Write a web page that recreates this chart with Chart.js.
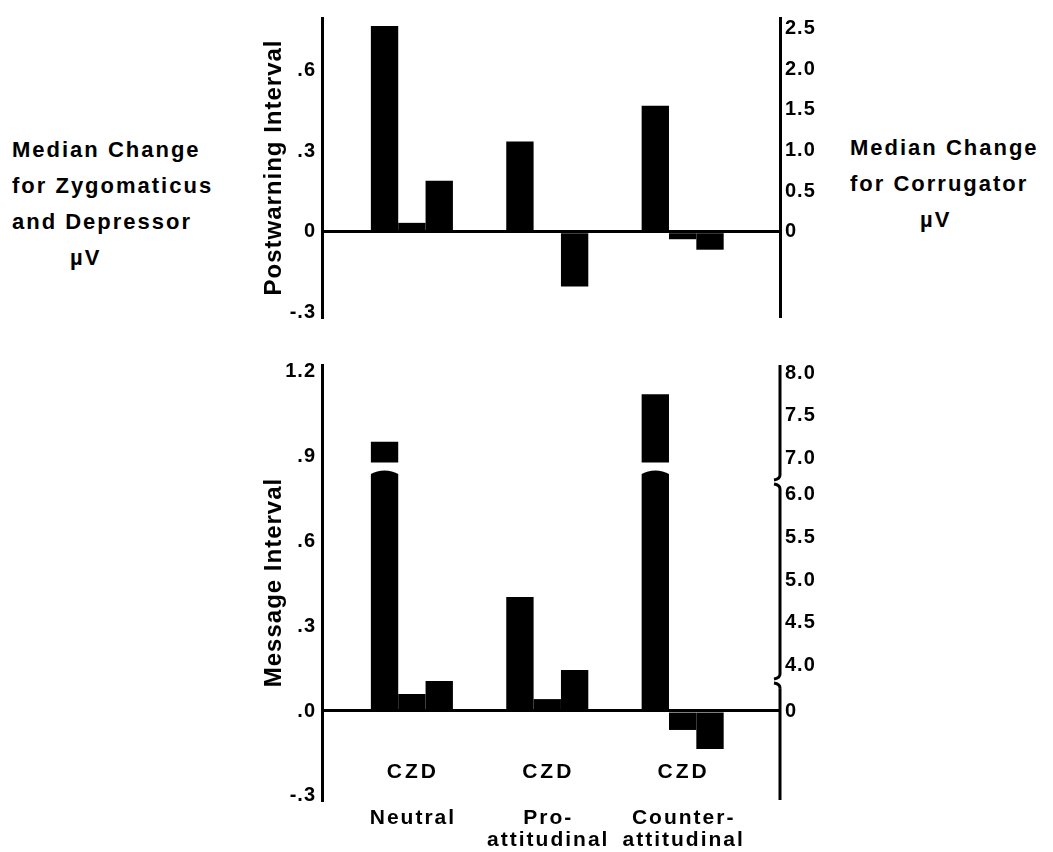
<!DOCTYPE html>
<html>
<head>
<meta charset="utf-8">
<title>Median change, postwarning and message interval</title>
<script src="https://cdn.jsdelivr.net/npm/chart.js@4/dist/chart.umd.min.js"></script>
<style>
  html, body { margin: 0; padding: 0; background: #fff; }
  body { width: 1053px; height: 852px; position: relative; overflow: hidden; font-family: "Liberation Sans", Arial, sans-serif; }
  canvas { position: absolute; left: 0; }
  #post { top: 0; }
  #msg { top: 340px; }
  .side { position: absolute; font-weight: bold; font-size: 22px; letter-spacing: 2px; line-height: 36px; color: #000; white-space: nowrap; }
</style>
</head>
<body>
<div class="side" style="left:12px; top:132px;">Median Change<br>for Zygomaticus<br>and Depressor<br><span style="padding-left:58px">µV</span></div>
<div class="side" style="left:850px; top:130px;">Median Change<br>for Corrugator<br><span style="padding-left:70px">µV</span></div>
<canvas id="post" width="1053" height="340"></canvas>
<canvas id="msg" width="1053" height="512"></canvas>
<script>
// categories
const groups = ['Neutral', 'Pro-attitudinal', 'Counter-attitudinal'];
const groupLines = [['Neutral'], ['Pro-', 'attitudinal'], ['Counter-', 'attitudinal']];
const barLetters = 'CZD';

// postwarning interval (top): C on right axis, Z and D on left axis
const postCorrugator = [2.53, 1.11, 1.55];
const postZygomaticus = [0.033, 0, -0.028];
const postDepressor = [0.19, -0.204, -0.067];

// message interval (bottom)
const msgCorrugator = [7.19, 4.8, 7.75];
const msgZygomaticus = [0.06, 0.042, -0.067];
const msgDepressor = [0.106, 0.145, -0.134];

// tick labels
const postLeftTicks = [-0.3, 0, 0.3, 0.6];
const postLeftLabels = ['-.3', '0', '.3', '.6'];
const postRightTicks = [0, 0.5, 1, 1.5, 2, 2.5];
const postRightLabels = ['0', '0.5', '1.0', '1.5', '2.0', '2.5'];
const msgLeftTicks = [-0.3, 0, 0.3, 0.6, 0.9, 1.2];
const msgLeftLabels = ['-.3', '.0', '.3', '.6', '.9', '1.2'];
const msgRightTicks = [0, 4, 4.5, 5, 5.5, 6, 7, 7.5, 8];
const msgRightLabels = ['0', '4.0', '4.5', '5.0', '5.5', '6.0', '7.0', '7.5', '8.0'];

// broken corrugator axis of the message panel: real value -> axis position
const msgBreakMap = [[0, 0], [4, 0.541], [6, 2.541], [7, 2.976], [9, 4.976]];
const axisBreaks = [2.6, 6.35];   // where the axis line is cut
const barCut = 6.77;              // where the tall bars are cut

function toAxis(v) {
  for (let i = 1; i < msgBreakMap.length; i++) {
    const [v0, u0] = msgBreakMap[i - 1];
    const [v1, u1] = msgBreakMap[i];
    if (v <= v1 || i === msgBreakMap.length - 1) return u0 + (v - v0) * (u1 - u0) / (v1 - v0);
  }
}

const family = '"Liberation Sans", Arial, sans-serif';

// canvas text gets a little letter spacing like the typeset figure
const spacing = {
  id: 'spacing',
  beforeDraw(chart) { chart.ctx.letterSpacing = '1px'; }
};

function bars(values, axis) {
  return {
    data: values.map((v, i) => ({ x: i, y: v })),
    yAxisID: axis,
    backgroundColor: '#000',
    borderWidth: 0,
    barPercentage: 1,
    categoryPercentage: 0.606
  };
}

function makeChart(id, cfg) {
  return new Chart(document.getElementById(id), {
    type: 'bar',
    data: {
      datasets: [
        bars(cfg.c, 'yC'),
        bars(cfg.z, 'yZD'),
        bars(cfg.d, 'yZD')
      ]
    },
    options: {
      responsive: false,
      animation: false,
      layout: { padding: cfg.padding },
      plugins: { legend: { display: false }, tooltip: { enabled: false } },
      scales: {
        x: {
          type: 'linear', display: false, offset: false, min: -0.664, max: 2.719,
          afterBuildTicks: s => { s.ticks = groups.map((g, i) => ({ value: i })); }
        },
        yZD: {
          position: 'left', min: cfg.leftMin, max: cfg.leftMax,
          afterBuildTicks: s => { s.ticks = cfg.leftTicks.map(v => ({ value: v })); },
          afterFit: s => { s.width = 72; },
          grid: { drawTicks: false, lineWidth: 3, color: c => (c.tick && c.tick.value === 0) ? '#000' : 'rgba(0,0,0,0)' },
          border: { display: true, color: '#000', width: 3 },
          ticks: { autoSkip: false, padding: 6, color: '#000', font: { family, size: 20, weight: 'bold' },
                   callback: (v, i) => cfg.leftLabels[i] },
          title: { display: true, text: cfg.title, color: '#000', font: { family, size: 24, weight: 'bold' },
                   padding: { top: 10, bottom: 0 } }
        },
        yC: {
          position: 'right', min: cfg.rightMin, max: cfg.rightMax,
          afterBuildTicks: s => { s.ticks = cfg.rightTicks.map(v => ({ value: v })); },
          afterFit: s => { s.width = 60; },
          grid: { display: false, drawTicks: false },
          border: { display: cfg.rightBorder, color: '#000', width: 3 },
          ticks: { autoSkip: false, padding: 5, color: '#000', font: { family, size: 20, weight: 'bold' },
                   callback: (v, i) => cfg.rightLabels[i] }
        }
      }
    },
    plugins: [spacing].concat(cfg.plugins || [])
  });
}

// message panel extras: broken bars, broken right axis, category labels
const msgExtras = {
  id: 'msgExtras',
  afterDatasetsDraw(chart) {
    const ctx = chart.ctx;
    const yC = chart.scales.yC;
    const cy = yC.getPixelForValue(toAxis(barCut));
    ctx.save();
    ctx.fillStyle = '#fff';
    chart.getDatasetMeta(0).data.forEach((bar, i) => {
      if (msgCorrugator[i] <= barCut) return;
      const { x, width } = bar.getProps(['x', 'width'], true);
      const l = x - width / 2 - 1, r = x + width / 2 + 1;
      ctx.beginPath();
      ctx.moveTo(l, cy - 4);
      ctx.lineTo(r, cy - 4);
      ctx.lineTo(r, cy + 8);
      ctx.quadraticCurveTo(x, cy, l, cy + 8);
      ctx.closePath();
      ctx.fill();
    });
    ctx.restore();
  },
  afterDraw(chart) {
    const ctx = chart.ctx;
    const { top, bottom, right } = chart.chartArea;
    const yC = chart.scales.yC;
    const x = right;
    const cuts = axisBreaks.map(v => yC.getPixelForValue(toAxis(v))).sort((a, b) => a - b);
    ctx.save();
    ctx.strokeStyle = '#000';
    ctx.lineWidth = 3;
    let start = top;
    cuts.forEach(yb => {
      ctx.beginPath();
      ctx.moveTo(x, start);
      ctx.lineTo(x, yb - 7);
      ctx.quadraticCurveTo(x, yb - 3, x - 6, yb - 2);
      ctx.stroke();
      ctx.beginPath();
      ctx.moveTo(x - 6, yb + 2);
      ctx.quadraticCurveTo(x, yb + 3, x, yb + 7);
      ctx.stroke();
      start = yb + 7;
    });
    ctx.beginPath();
    ctx.moveTo(x, start);
    ctx.lineTo(x, bottom);
    ctx.stroke();

    // CZD under each group and the condition names
    const xs = chart.scales.x;
    ctx.fillStyle = '#000';
    ctx.textAlign = 'center';
    ctx.textBaseline = 'middle';
    groups.forEach((g, i) => {
      const cx = xs.getPixelForValue(i);
      ctx.letterSpacing = '3px';
      ctx.font = 'bold 21px ' + family;
      ctx.fillText(barLetters, cx + 1, 432);
      ctx.letterSpacing = '2px';
      ctx.font = 'bold 21px ' + family;
      groupLines[i].forEach((line, k) => ctx.fillText(line, cx + 1, 478 + k * 22));
    });
    ctx.restore();
  }
};

makeChart('post', {
  c: postCorrugator, z: postZygomaticus, d: postDepressor,
  padding: { left: 250, right: 213, top: 12, bottom: 23 },
  title: 'Postwarning Interval',
  leftMin: -0.3175, leftMax: 0.7956, leftTicks: postLeftTicks, leftLabels: postLeftLabels,
  rightMin: -1.048, rightMax: 2.627, rightTicks: postRightTicks, rightLabels: postRightLabels,
  rightBorder: true
});

makeChart('msg', {
  c: msgCorrugator.map(toAxis), z: msgZygomaticus, d: msgDepressor,
  padding: { left: 250, right: 213, top: 25, bottom: 52 },
  title: 'Message Interval',
  leftMin: -0.3145, leftMax: 1.2226, leftTicks: msgLeftTicks, leftLabels: msgLeftLabels,
  rightMin: -1.047, rightMax: 4.07, rightTicks: msgRightTicks.map(toAxis), rightLabels: msgRightLabels,
  rightBorder: false,
  plugins: [msgExtras]
});
</script>
</body>
</html>
